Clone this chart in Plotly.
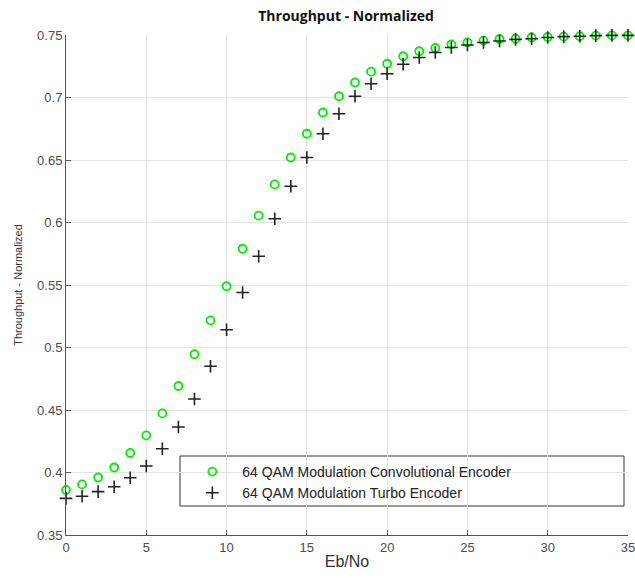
import plotly.graph_objects as go

eb_no = list(range(0, 36))
conv_encoder = [0.386, 0.3905, 0.396, 0.404, 0.4156, 0.4297, 0.4473, 0.4692, 0.4946, 0.5217,
                0.549, 0.579, 0.6055, 0.6305, 0.652, 0.671, 0.688, 0.701, 0.712, 0.7207,
                0.727, 0.733, 0.737, 0.7396, 0.7425, 0.744, 0.7455, 0.7468, 0.747, 0.748,
                0.7484, 0.7487, 0.749, 0.7495, 0.7497, 0.7497]
turbo_encoder = [0.3793, 0.381, 0.3847, 0.3886, 0.3958, 0.4052, 0.419, 0.4364, 0.4588, 0.485,
                 0.5142, 0.544, 0.573, 0.603, 0.629, 0.652, 0.671, 0.687, 0.701, 0.711,
                 0.719, 0.7266, 0.732, 0.736, 0.740, 0.742, 0.744, 0.7452, 0.7465, 0.747,
                 0.748, 0.7487, 0.749, 0.7495, 0.7497, 0.7497]
series_names = ["64 QAM Modulation Convolutional Encoder", "64 QAM Modulation Turbo Encoder"]
x_ticks = [0, 5, 10, 15, 20, 25, 30, 35]
y_ticks = [0.35, 0.4, 0.45, 0.5, 0.55, 0.6, 0.65, 0.7, 0.75]

FONT = "Liberation Sans, Arial, sans-serif"

fig = go.Figure()
fig.add_trace(go.Scatter(
    x=eb_no, y=conv_encoder, mode="markers", name=series_names[0],
    marker=dict(symbol="circle-open", size=8, color="#00ee00", line=dict(width=1.8, color="#00ee00")),
    cliponaxis=False,
))
fig.add_trace(go.Scatter(
    x=eb_no, y=turbo_encoder, mode="markers", name=series_names[1],
    marker=dict(symbol="cross-thin-open", size=9, color="#222222", line=dict(width=1.6, color="#222222")),
    cliponaxis=False,
))

fig.update_layout(
    width=635, height=578,
    margin=dict(l=66, r=7, t=35, b=43, autoexpand=False),
    paper_bgcolor="white", plot_bgcolor="white",
    font=dict(family=FONT, size=13, color="#4d4d4d"),
    title=dict(text="<b>Throughput - Normalized</b>", x=0.545, xanchor="center", y=0.972, yanchor="middle",
               font=dict(family="Open Sans, Noto Sans, sans-serif", size=14, color="#111111")),
    showlegend=True,
    legend=dict(x=0.207, y=0.158, xanchor="left", yanchor="top",
                bgcolor="rgba(255,255,255,0)", borderwidth=0,
                font=dict(family=FONT, size=14, color="#222222"),
                tracegroupgap=0, itemwidth=50),
    shapes=[
        dict(type="rect", xref="paper", yref="paper", x0=(180-66)/562, x1=(624-66)/562,
             y0=(535-506)/500, y1=(535-456)/500, line=dict(color="#333333", width=1),
             fillcolor="white", layer="between"),
    ],
)
fig.update_xaxes(
    range=[0, 35.001], tickvals=x_ticks, showgrid=True, gridcolor="#e3e3e3", gridwidth=1,
    zeroline=False, showline=True, linecolor="#555555", linewidth=1,
    ticks="inside", ticklen=5, tickcolor="#555555", mirror=False,
    ticklabeloverflow="allow", automargin=False,
    title=dict(text="Eb/No", font=dict(family=FONT, size=16, color="#333333"), standoff=2),
    tickfont=dict(family=FONT, size=13, color="#4d4d4d"),
)
fig.update_yaxes(
    range=[0.35, 0.75], tickvals=y_ticks, showgrid=True, gridcolor="#e3e3e3", gridwidth=1,
    zeroline=False, showline=True, linecolor="#555555", linewidth=1,
    ticks="inside", ticklen=5, tickcolor="#555555", mirror=False, automargin=False,
    title=dict(text="Throughput - Normalized", font=dict(family=FONT, size=11, color="#333333"), standoff=12),
    tickfont=dict(family=FONT, size=13, color="#4d4d4d"),
)

fig.write_html("out.html")
